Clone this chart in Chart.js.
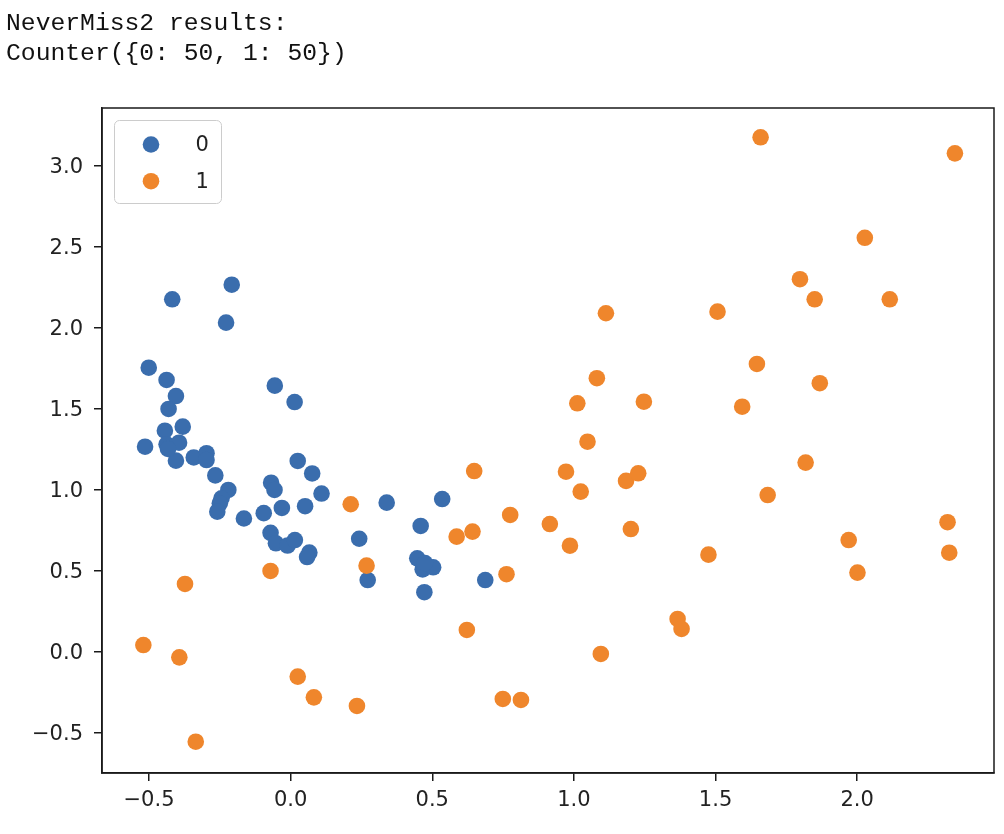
<!DOCTYPE html>
<html>
<head>
<meta charset="utf-8">
<script src="https://cdn.jsdelivr.net/npm/chart.js@4.4.1/dist/chart.umd.min.js"></script>
<style>
  html, body { margin: 0; padding: 0; background: #ffffff; width: 1004px; height: 834px; overflow: hidden; }
  #wrap { position: relative; width: 1004px; height: 834px; }
  #out { position: absolute; left: 6px; top: 8px; font-family: 'Courier New', 'Liberation Mono', monospace; font-size: 24.7px; line-height: 30px; color: #111; white-space: pre; z-index: 2; }
  canvas { position: absolute; left: 0; top: 0; }
</style>
</head>
<body>
<div id="wrap">
  <div id="out">NeverMiss2 results:
Counter({0: 50, 1: 50})</div>
  <canvas id="c" width="1004" height="834"></canvas>
</div>
<script>
const seriesNames = ['0', '1'];

const class0X = [-0.418, -0.208, -0.228, -0.501, -0.438, -0.405, -0.431, -0.056, 0.014, -0.444,
                 -0.381, -0.514, -0.438, -0.394, -0.405, -0.342, -0.297, -0.297, -0.266, -0.220,
                 -0.244, -0.250, -0.259, -0.165, -0.069, -0.057, 0.025, 0.076, 0.109, 0.051,
                 -0.031, -0.095, -0.071, -0.052, -0.011, 0.015, 0.066, 0.242, 0.272, 0.339,
                 0.535, 0.459, 0.447, 0.466, 0.503, 0.472, 0.687, -0.433, 0.058, 0.474];
const class0Y = [2.177, 2.267, 2.033, 1.755, 1.679, 1.580, 1.500, 1.644, 1.543, 1.366,
                 1.391, 1.267, 1.282, 1.292, 1.181, 1.201, 1.227, 1.185, 1.090, 1.000,
                 0.949, 0.918, 0.866, 0.824, 1.045, 1.000, 1.179, 1.102, 0.978, 0.900,
                 0.889, 0.857, 0.736, 0.671, 0.657, 0.691, 0.614, 0.699, 0.444, 0.922,
                 0.944, 0.778, 0.578, 0.510, 0.523, 0.369, 0.444, 1.253, 0.586, 0.549];

const class1X = [-0.520, -0.393, -0.335, -0.373, -0.071, 0.025, 0.082, 0.234, 0.212, 0.268,
                 0.586, 0.642, 0.648, 0.622, 0.749, 0.813, 0.762, 0.775, 0.915, 0.972,
                 0.986, 1.012, 1.024, 1.048, 1.081, 1.113, 1.095, 1.184, 1.201, 1.227,
                 1.247, 1.366, 1.380, 1.475, 1.507, 1.594, 1.646, 1.659, 1.684, 1.798,
                 1.818, 1.850, 1.868, 1.970, 2.001, 2.027, 2.115, 2.319, 2.325, 2.345];
const class1Y = [0.043, -0.033, -0.554, 0.420, 0.500, -0.152, -0.280, -0.333, 0.912, 0.533,
                 0.712, 0.743, 1.117, 0.136, -0.290, -0.296, 0.480, 0.846, 0.790, 1.113,
                 0.656, 1.535, 0.990, 1.298, 1.690, 2.091, -0.012, 1.056, 0.759, 1.103,
                 1.545, 0.204, 0.142, 0.601, 2.101, 1.514, 1.778, 3.177, 0.969, 2.301,
                 1.169, 2.177, 1.659, 0.691, 0.490, 2.557, 2.177, 0.801, 0.613, 3.078];

const xTicks = [-0.5, 0.0, 0.5, 1.0, 1.5, 2.0];
const yTicks = [-0.5, 0.0, 0.5, 1.0, 1.5, 2.0, 2.5, 3.0];
const xLimits = [-0.666, 2.483];
const yLimits = [-0.747, 3.358];

const colors = ['#3a6dad', '#ef862c'];

function pts(xs, ys) { return xs.map((x, i) => ({ x: x, y: ys[i] })); }
function fmt(v) { return (v < 0 ? '\u2212' : '') + Math.abs(v).toFixed(1); }

const tickFont = { family: "'DejaVu Sans', sans-serif", size: 21 };
const textColor = '#222222';

const boxPlugin = {
  id: 'boxAndLegend',
  afterDraw(chart) {
    const ctx = chart.ctx;
    const a = chart.chartArea;
    ctx.save();
    ctx.strokeStyle = '#1a1a1a';
    ctx.lineWidth = 1.5;
    ctx.strokeRect(a.left, a.top, a.right - a.left, a.bottom - a.top);
    const bx = a.left + 12.5, by = a.top + 12.5, bw = 107, bh = 83, r = 5;
    ctx.beginPath();
    ctx.moveTo(bx + r, by);
    ctx.arcTo(bx + bw, by, bx + bw, by + bh, r);
    ctx.arcTo(bx + bw, by + bh, bx, by + bh, r);
    ctx.arcTo(bx, by + bh, bx, by, r);
    ctx.arcTo(bx, by, bx + bw, by, r);
    ctx.closePath();
    ctx.fillStyle = 'rgba(255,255,255,0.8)';
    ctx.fill();
    ctx.strokeStyle = '#cccccc';
    ctx.lineWidth = 1;
    ctx.stroke();
    chart.data.datasets.forEach((ds, i) => {
      const cy = by + 24 + i * 36.7;
      ctx.beginPath();
      ctx.arc(bx + 36.5, cy, 8.3, 0, Math.PI * 2);
      ctx.fillStyle = ds.backgroundColor;
      ctx.fill();
      ctx.fillStyle = textColor;
      ctx.font = "21px 'DejaVu Sans', sans-serif";
      ctx.textBaseline = 'middle';
      ctx.textAlign = 'left';
      ctx.fillText(ds.label, bx + 81, cy + 1);
    });
    ctx.restore();
  }
};

new Chart(document.getElementById('c'), {
  type: 'scatter',
  data: {
    datasets: [
      { label: seriesNames[0], data: pts(class0X, class0Y), backgroundColor: colors[0], borderWidth: 0, pointRadius: 8.3, pointHoverRadius: 8.3, order: 2 },
      { label: seriesNames[1], data: pts(class1X, class1Y), backgroundColor: colors[1], borderWidth: 0, pointRadius: 8.3, pointHoverRadius: 8.3, order: 1 }
    ]
  },
  options: {
    responsive: false,
    animation: false,
    devicePixelRatio: 1,
    layout: { padding: { top: 108, right: 10, left: 0, bottom: 0 } },
    plugins: { legend: { display: false }, tooltip: { enabled: false } },
    scales: {
      x: {
        type: 'linear', min: xLimits[0], max: xLimits[1],
        afterBuildTicks: s => { s.ticks = xTicks.map(v => ({ value: v })); },
        afterFit: s => { s.height = 61; },
        grid: { drawOnChartArea: false, drawTicks: true, tickLength: 8, color: '#1a1a1a', lineWidth: 1.5 },
        border: { display: true, color: '#1a1a1a', width: 1.5 },
        ticks: { callback: v => fmt(v), font: tickFont, color: textColor, padding: 7, maxRotation: 0, autoSkip: false }
      },
      y: {
        type: 'linear', min: yLimits[0], max: yLimits[1],
        afterBuildTicks: s => { s.ticks = yTicks.map(v => ({ value: v })); },
        afterFit: s => { s.width = 102; },
        grid: { drawOnChartArea: false, drawTicks: true, tickLength: 8, color: '#1a1a1a', lineWidth: 1.5 },
        border: { display: true, color: '#1a1a1a', width: 1.5 },
        ticks: { callback: v => fmt(v), font: tickFont, color: textColor, padding: 11, labelOffset: 2, autoSkip: false }
      }
    }
  },
  plugins: [boxPlugin]
});
</script>
</body>
</html>
